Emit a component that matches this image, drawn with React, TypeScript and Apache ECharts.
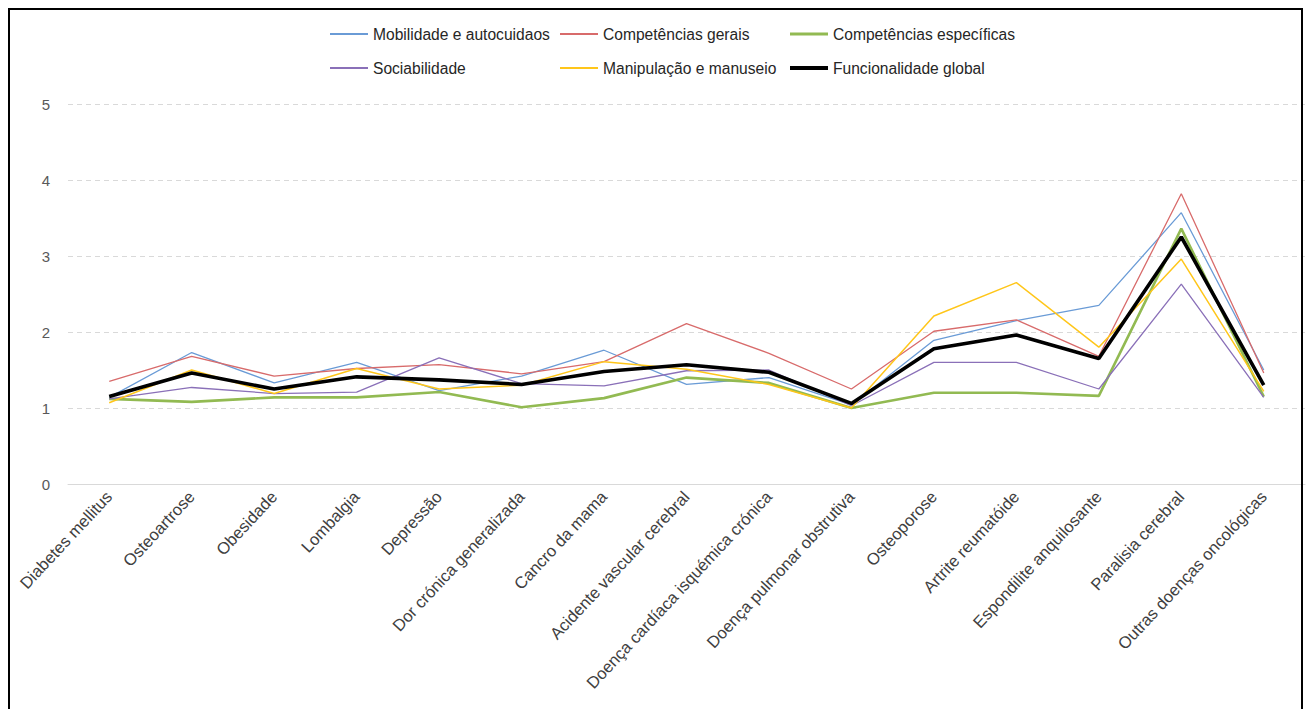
import React, { useEffect, useRef } from "react";
import * as echarts from "echarts";

const categories = [
  "Diabetes mellitus",
  "Osteoartrose",
  "Obesidade",
  "Lombalgia",
  "Depressão",
  "Dor crónica generalizada",
  "Cancro da mama",
  "Acidente vascular cerebral",
  "Doença cardíaca isquémica crónica",
  "Doença pulmonar obstrutiva",
  "Osteoporose",
  "Artrite reumatóide",
  "Espondilite anquilosante",
  "Paralisia cerebral",
  "Outras doenças oncológicas",
];

const mobilidade = [1.14, 1.73, 1.33, 1.6, 1.23, 1.42, 1.76, 1.31, 1.4, 1.04, 1.89, 2.15, 2.35, 3.57, 1.5];
const competenciasGerais = [1.35, 1.68, 1.42, 1.52, 1.57, 1.45, 1.61, 2.11, 1.72, 1.25, 2.01, 2.16, 1.68, 3.82, 1.46];
const competenciasEspecificas = [1.12, 1.08, 1.14, 1.14, 1.21, 1.01, 1.13, 1.4, 1.33, 1.0, 1.2, 1.2, 1.16, 3.36, 1.15];
const sociabilidade = [1.12, 1.27, 1.19, 1.21, 1.66, 1.32, 1.29, 1.49, 1.5, 1.03, 1.6, 1.6, 1.25, 2.63, 1.14];
const manipulacao = [1.07, 1.5, 1.19, 1.52, 1.25, 1.3, 1.61, 1.51, 1.31, 1.0, 2.21, 2.65, 1.8, 2.96, 1.22];
const funcionalidade = [1.15, 1.46, 1.25, 1.41, 1.37, 1.31, 1.48, 1.57, 1.47, 1.06, 1.78, 1.96, 1.65, 3.25, 1.3];

const seriesNames = [
  "Mobilidade e autocuidaos",
  "Competências gerais",
  "Competências específicas",
  "Sociabilidade",
  "Manipulação e manuseio",
  "Funcionalidade global",
];
const seriesData = [mobilidade, competenciasGerais, competenciasEspecificas, sociabilidade, manipulacao, funcionalidade];
const seriesColors = ["#6A9BD6", "#D86B6B", "#92BA52", "#8A70B8", "#FFC61A", "#000000"];
const seriesWidths = [1.3, 1.3, 2.6, 1.3, 1.5, 3.6];
const legendIconHeights = [2, 2, 3, 2, 2, 4];

const legendPos = [
  { left: 330, center: 35 },
  { left: 560, center: 35 },
  { left: 790, center: 35 },
  { left: 330, center: 69 },
  { left: 560, center: 69 },
  { left: 790, center: 69 },
];

const FONT = "'Liberation Sans', Arial, sans-serif";

export default function App() {
  const ref = useRef<HTMLDivElement>(null);
  useEffect(() => {
    if (!ref.current) return;
    const chart = echarts.init(ref.current, null, { renderer: "svg" });
    chart.setOption({
      animation: false,
      backgroundColor: "#ffffff",
      legend: seriesNames.map((name, i) => ({
        data: [{ name, icon: "rect" }],
        left: legendPos[i].left,
        top: legendPos[i].center - 9,
        padding: 0,
        itemWidth: 38,
        itemHeight: legendIconHeights[i],
        itemGap: 0,
        itemStyle: { color: seriesColors[i], borderWidth: 0 },
        textStyle: { fontFamily: FONT, fontSize: 15.6, color: "#262626" },
      })),
      grid: { left: 68, right: 6, top: 104, bottom: 225, containLabel: false },
      xAxis: {
        type: "category",
        data: categories,
        boundaryGap: true,
        axisLine: { show: true, lineStyle: { color: "#D9D9D9", width: 1 } },
        axisTick: { show: false },
        axisLabel: {
          interval: 0,
          rotate: 47,
          margin: 10,
          fontFamily: FONT,
          fontSize: 16.6,
          color: "#404040",
        },
      },
      yAxis: {
        type: "value",
        min: 0,
        max: 5,
        interval: 1,
        axisLine: { show: false },
        axisTick: { show: false },
        axisLabel: { margin: 18, fontFamily: FONT, fontSize: 15, color: "#595959" },
        splitLine: { show: true, lineStyle: { color: "#D9D9D9", type: [5, 4], width: 1 } },
      },
      series: seriesNames.map((name, i) => ({
        name,
        type: "line",
        data: seriesData[i],
        symbol: "none",
        showSymbol: false,
        color: seriesColors[i],
        lineStyle: { color: seriesColors[i], width: seriesWidths[i] },
        z: i === 5 ? 10 : 2,
      })),
      graphic: [
        {
          type: "rect",
          shape: { x: 9, y: 9, width: 1293, height: 720 },
          style: { fill: "none", stroke: "#000000", lineWidth: 2 },
          silent: true,
          z: 100,
        },
      ],
    });
    return () => chart.dispose();
  }, []);
  return (
    <div
      ref={ref}
      style={{ position: "fixed", left: 0, top: 0, width: 1311, height: 709 }}
    />
  );
}
